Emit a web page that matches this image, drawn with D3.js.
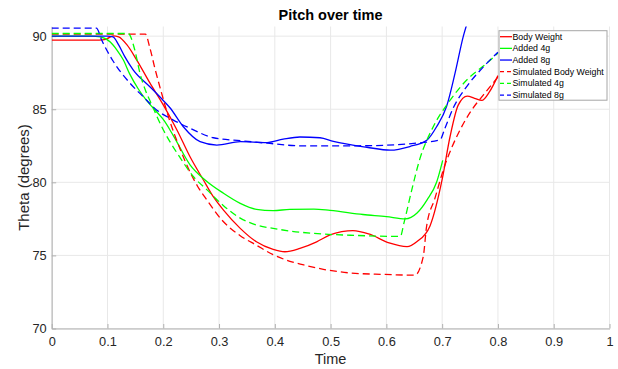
<!DOCTYPE html>
<html>
<head>
<meta charset="utf-8">
<script src="https://cdn.jsdelivr.net/npm/d3@7"></script>
<style>
  body { margin: 0; background: #fff; }
  svg { display: block; font-family: "Liberation Sans", Arial, sans-serif; }
</style>
</head>
<body>
<svg id="chart" width="618" height="369"></svg>
<script>
// values: [time, theta]
const bodyWeight = [[0,89.73],[0.085,89.73],[0.097,89.78],[0.11,90.02],[0.12,89.95],[0.135,89.4],[0.152,88.4],[0.176,86.8],[0.2,85.3],[0.225,83.55],[0.248,81.75],[0.272,80.16],[0.29,79.0],[0.308,78.1],[0.338,76.85],[0.367,75.93],[0.397,75.41],[0.418,75.25],[0.445,75.48],[0.475,75.93],[0.499,76.4],[0.52,76.62],[0.54,76.7],[0.57,76.45],[0.605,75.85],[0.637,75.6],[0.655,75.95],[0.678,77.0],[0.7,80.2],[0.714,83.1],[0.729,85.3],[0.745,85.9],[0.758,85.75],[0.771,85.6],[0.785,86.2],[0.8,87.3]];
const added4g = [[0,90.0],[0.07,90.0],[0.087,89.95],[0.105,89.6],[0.117,89.05],[0.128,88.4],[0.14,87.4],[0.155,86.4],[0.17,85.6],[0.185,84.95],[0.2,84.3],[0.218,83.2],[0.248,81.2],[0.275,80.16],[0.308,79.25],[0.338,78.56],[0.367,78.15],[0.397,78.06],[0.427,78.15],[0.47,78.17],[0.499,78.08],[0.558,77.8],[0.6,77.65],[0.634,77.5],[0.655,77.9],[0.673,78.8],[0.69,80.0],[0.701,81.5]];
const added8g = [[0,90.0],[0.1,90.0],[0.11,89.95],[0.12,89.4],[0.131,88.6],[0.146,87.7],[0.176,86.54],[0.2,85.6],[0.212,85.1],[0.236,83.8],[0.266,82.78],[0.296,82.55],[0.338,82.78],[0.386,82.72],[0.415,82.95],[0.445,83.1],[0.481,83.05],[0.505,82.8],[0.565,82.4],[0.607,82.2],[0.642,82.45],[0.673,82.9],[0.69,83.8],[0.708,85.2],[0.723,87.45],[0.738,90.0],[0.75,91.5]];
const simBodyWeight = [[0,90.14],[0.168,90.14],[0.176,89.2],[0.185,87.8],[0.197,86.1],[0.21,84.4],[0.23,82.3],[0.248,80.7],[0.262,79.7],[0.278,78.8],[0.308,77.3],[0.338,76.35],[0.367,75.7],[0.397,75.05],[0.427,74.6],[0.457,74.3],[0.487,74.05],[0.535,73.8],[0.594,73.7],[0.651,73.65],[0.666,74.9],[0.672,76.96],[0.687,78.9],[0.702,80.84],[0.732,83.58],[0.753,84.95],[0.774,85.98],[0.8,87.2]];
const sim4g = [[0,90.18],[0.137,90.18],[0.149,89.05],[0.158,87.5],[0.168,86.3],[0.176,85.6],[0.2,83.6],[0.23,81.7],[0.255,80.35],[0.278,79.5],[0.308,78.4],[0.338,77.55],[0.367,77.08],[0.397,76.85],[0.427,76.67],[0.487,76.46],[0.535,76.38],[0.625,76.3],[0.632,77.3],[0.645,79.4],[0.66,81.6],[0.684,83.8],[0.714,85.6],[0.744,87.0],[0.78,88.15],[0.8,88.85]];
const sim8g = [[0,90.55],[0.08,90.55],[0.09,89.7],[0.11,88.3],[0.14,86.8],[0.164,85.86],[0.188,84.95],[0.218,84.26],[0.248,83.7],[0.29,83.05],[0.338,82.85],[0.386,82.68],[0.445,82.5],[0.55,82.5],[0.654,82.68],[0.696,82.9],[0.705,83.7],[0.72,85.1],[0.745,86.6],[0.774,87.9],[0.8,88.9]];

const seriesNames = ["Body Weight", "Added 4g", "Added 8g", "Simulated Body Weight", "Simulated 4g", "Simulated 8g"];
const seriesData = [bodyWeight, added4g, added8g, simBodyWeight, sim4g, sim8g];
const seriesColors = ["#ff0000", "#00ff00", "#0000ff", "#ff0000", "#00ff00", "#0000ff"];
const seriesDashed = [false, false, false, true, true, true];

const xTicks = [0, 0.1, 0.2, 0.3, 0.4, 0.5, 0.6, 0.7, 0.8, 0.9, 1];
const yTicks = [70, 75, 80, 85, 90];
const xDomain = [0, 1];
const yDomain = [70, 90.66];

const svg = d3.select("#chart");
const width = 618, height = 369;
const margin = { top: 26.5, right: 8.5, bottom: 40.5, left: 51.7 };

const xScale = d3.scaleLinear().domain(xDomain).range([margin.left, width - margin.right]);
const yScale = d3.scaleLinear().domain(yDomain).range([height - margin.bottom, margin.top]);

const tickColor = "#262626";
const gridColor = "#e8e8e8";
const axisColor = "#b0b0b0";

// grid
svg.append("g")
  .selectAll("line")
  .data(xTicks)
  .join("line")
  .attr("x1", d => xScale(d)).attr("x2", d => xScale(d))
  .attr("y1", margin.top).attr("y2", height - margin.bottom)
  .attr("stroke", gridColor);

svg.append("g")
  .selectAll("line")
  .data(yTicks)
  .join("line")
  .attr("x1", margin.left).attr("x2", width - margin.right)
  .attr("y1", d => yScale(d)).attr("y2", d => yScale(d))
  .attr("stroke", gridColor);

// axes, ticks inside like matlab
const xAxis = d3.axisBottom(xScale)
  .tickValues(xTicks)
  .tickFormat(d => d3.format("~g")(d))
  .tickSizeInner(-4.5)
  .tickSizeOuter(0)
  .tickPadding(8);
const xg = svg.append("g")
  .attr("transform", `translate(0, ${height - margin.bottom})`)
  .call(xAxis);

const yAxis = d3.axisLeft(yScale)
  .tickValues(yTicks)
  .tickSizeInner(-4.5)
  .tickSizeOuter(0)
  .tickPadding(5);
const yg = svg.append("g")
  .attr("transform", `translate(${margin.left}, 0)`)
  .call(yAxis);

[xg, yg].forEach(g => {
  g.select(".domain").attr("stroke", axisColor);
  g.selectAll(".tick line").attr("stroke", axisColor);
  g.selectAll(".tick text")
    .attr("fill", tickColor)
    .style("font-size", "12.8px")
    .style("font-family", '"Liberation Sans", Arial, sans-serif');
});

// lines
svg.append("clipPath").attr("id", "plotClip")
  .append("rect")
  .attr("x", margin.left).attr("y", margin.top)
  .attr("width", width - margin.left - margin.right)
  .attr("height", height - margin.top - margin.bottom);

const line = d3.line()
  .x(d => xScale(d[0]))
  .y(d => yScale(d[1]))
  .curve(d3.curveMonotoneX);

const lineGroup = svg.append("g").attr("clip-path", "url(#plotClip)");
seriesData.forEach((data, i) => {
  lineGroup.append("path")
    .attr("d", line(data))
    .attr("fill", "none")
    .attr("stroke", seriesColors[i])
    .attr("stroke-width", 1.3)
    .attr("stroke-dasharray", seriesDashed[i] ? "7,4" : null);
});

// titles
svg.append("text")
  .attr("x", (margin.left + width - margin.right) / 2)
  .attr("y", 20)
  .attr("text-anchor", "middle")
  .attr("font-weight", "bold")
  .style("font-size", "14.5px")
  .attr("fill", "#000")
  .text("Pitch over time");

svg.append("text")
  .attr("x", (margin.left + width - margin.right) / 2)
  .attr("y", 364)
  .attr("text-anchor", "middle")
  .style("font-size", "14.5px")
  .attr("fill", tickColor)
  .text("Time");

svg.append("text")
  .attr("transform", `translate(29, ${(margin.top + height - margin.bottom) / 2}) rotate(-90)`)
  .attr("text-anchor", "middle")
  .style("font-size", "15px")
  .attr("fill", tickColor)
  .text("Theta (degrees)");

// legend
const legend = svg.append("g").attr("transform", "translate(499, 30.7)");
legend.append("rect")
  .attr("width", 108).attr("height", 69.5)
  .attr("fill", "#fff")
  .attr("stroke", "#a6a6a6")
  .attr("stroke-width", 1);

const rows = legend.selectAll("g.row")
  .data(seriesNames)
  .join("g")
  .attr("class", "row")
  .attr("transform", (d, i) => `translate(0, ${6 + i * 11.67})`);

rows.append("line")
  .attr("x1", 1).attr("x2", 13)
  .attr("stroke", (d, i) => seriesColors[i])
  .attr("stroke-width", 1.3)
  .attr("stroke-dasharray", (d, i) => seriesDashed[i] ? "4,3" : null);

rows.append("text")
  .attr("x", 13.5)
  .attr("dy", "0.35em")
  .style("font-size", "8.8px")
  .attr("fill", "#000")
  .text(d => d);
</script>
</body>
</html>
